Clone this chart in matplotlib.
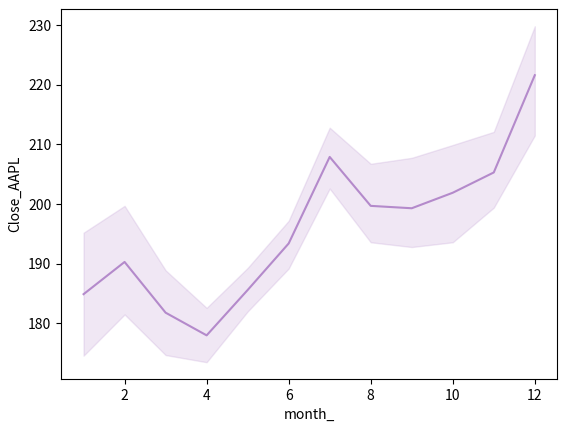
import matplotlib
matplotlib.use("Agg")
import matplotlib.pyplot as plt

plt.rcParams["font.family"] = ["Noto Sans CJK KR", "DejaVu Sans"]
plt.rcParams["axes.unicode_minus"] = False

MONTHS = [1, 2, 3, 4, 5, 6, 7, 8, 9, 10, 11, 12]
CLOSE_MEAN = [184.9, 190.3, 181.8, 178.0, 185.6, 193.4, 207.9, 199.7, 199.3, 201.9, 205.3, 221.6]
CI_LOW = [174.6, 181.5, 174.7, 173.5, 182.0, 189.2, 202.6, 193.6, 192.8, 193.6, 199.4, 211.5]
CI_HIGH = [195.2, 199.7, 188.9, 182.6, 189.3, 197.2, 212.8, 206.75, 207.75, 209.9, 212.1, 229.8]

COLOR = "#b48acb"

fig, ax = plt.subplots(figsize=(5.67, 4.3), dpi=100)
fig.subplots_adjust(left=0.1076, right=0.983, top=0.978, bottom=0.1186)

# CI band, edge kept like seaborn's default
ax.fill_between(MONTHS, CI_LOW, CI_HIGH, color=COLOR, alpha=0.2)
ax.plot(MONTHS, CLOSE_MEAN, color=COLOR, linewidth=1.5)

ax.set_xticks([2, 4, 6, 8, 10, 12])
ax.set_yticks([180, 190, 200, 210, 220, 230])
ax.set_xlabel("month_")
ax.set_ylabel("Close_AAPL")

fig.savefig("out.png", dpi=100, facecolor="white")
